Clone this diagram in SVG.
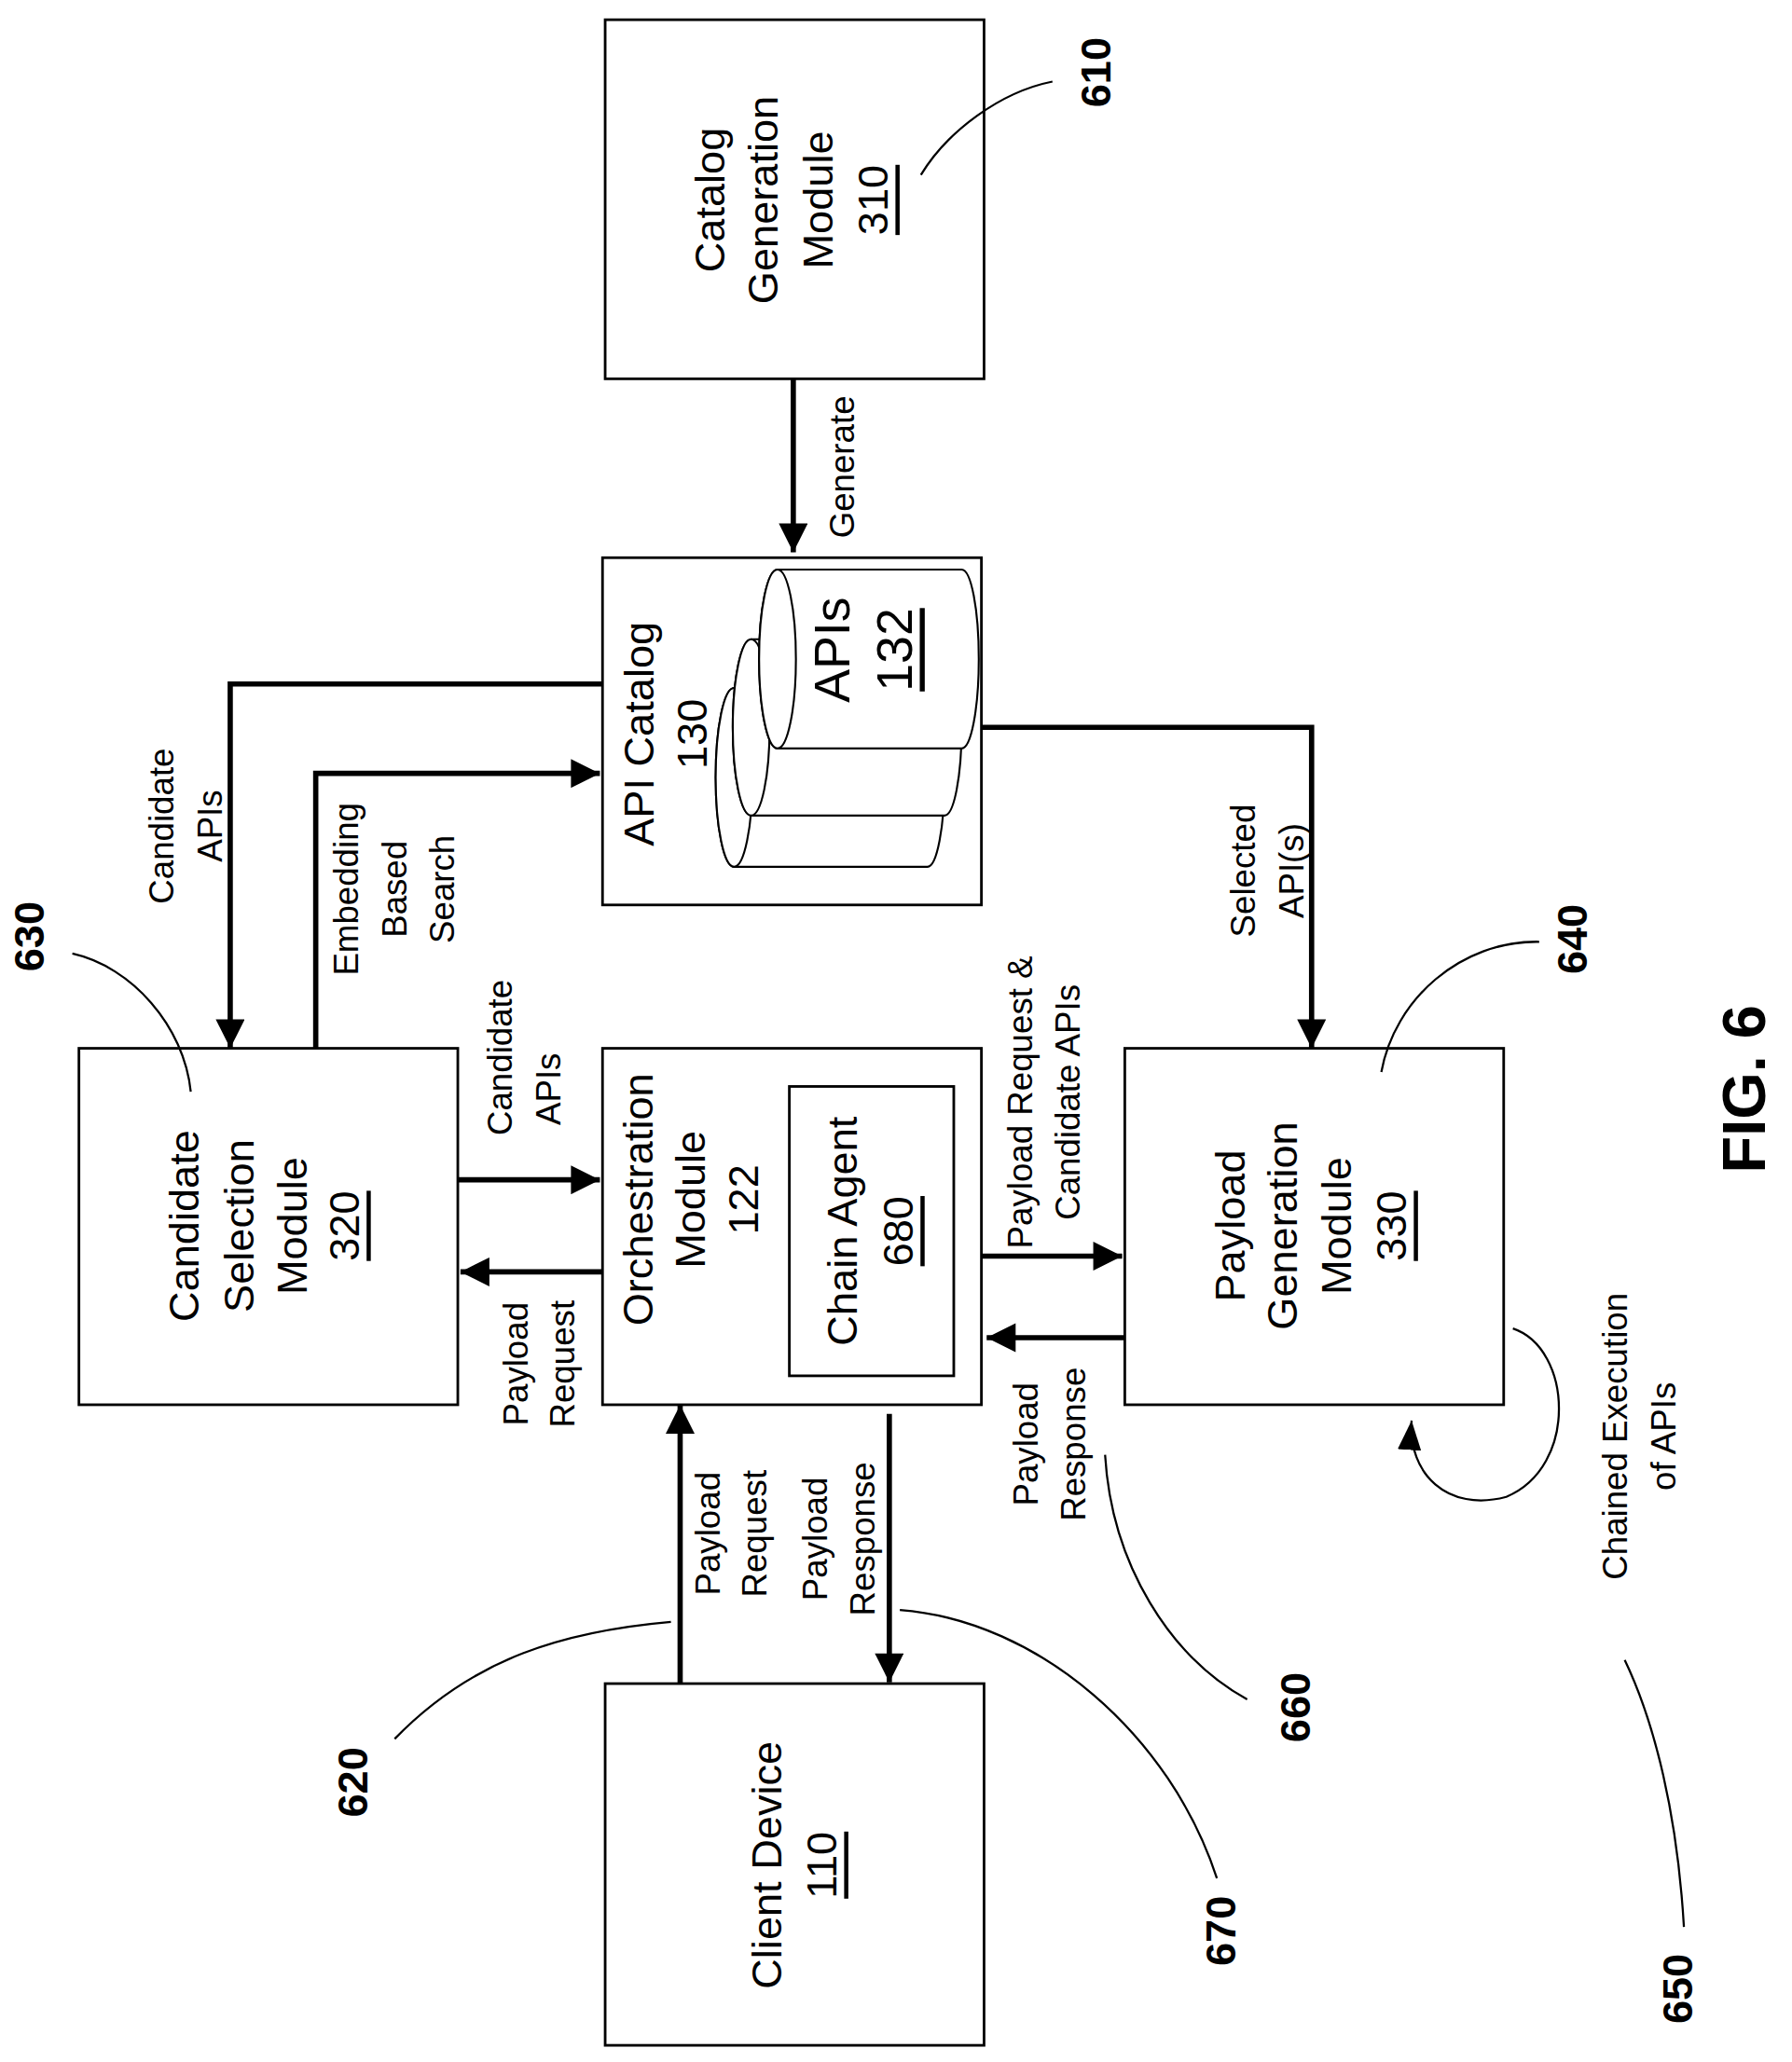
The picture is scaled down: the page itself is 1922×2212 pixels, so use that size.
<svg xmlns="http://www.w3.org/2000/svg" width="1922" height="2212" viewBox="0 0 1922 2212">
<style>
.box{fill:#fff;stroke:#000;stroke-width:2}
.t{font-family:"Liberation Sans",Arial,sans-serif;font-size:32px;text-anchor:middle;dominant-baseline:central}
.s{font-family:"Liberation Sans",Arial,sans-serif;font-size:26px;text-anchor:middle;dominant-baseline:central}
.n{font-family:"Liberation Sans",Arial,sans-serif;font-size:32px;font-weight:bold;text-anchor:middle;dominant-baseline:central}
.c{fill:none;stroke:#000;stroke-width:4}
.l{fill:none;stroke:#000;stroke-width:1.6}
.cyl{fill:#fff;stroke:#000;stroke-width:1.5}
</style>
<defs>
<marker id="ah" viewBox="0 0 10 10" refX="10" refY="5" markerWidth="6" markerHeight="5.5" markerUnits="strokeWidth" orient="auto"><path d="M0,0 L10,5 L0,10 z" fill="#000"/></marker>
<marker id="ah2" viewBox="0 0 10 10" refX="10" refY="5" markerWidth="14" markerHeight="14" markerUnits="strokeWidth" orient="auto"><path d="M0,1 L10,5 L0,9 z" fill="#000"/></marker>
</defs>
<rect width="1922" height="2212" fill="#fff"/>
<g transform="scale(1.411)">
<g id="catalog-gen">
<rect class="box" x="460" y="15" width="288" height="273"/>
<text class="t" transform="translate(540,152) rotate(-90)">Catalog</text>
<text class="t" transform="translate(580,152) rotate(-90)">Generation</text>
<text class="t" transform="translate(622,152) rotate(-90)">Module</text>
<text class="t" transform="translate(664,152) rotate(-90)" text-decoration="underline">310</text>
</g>
<g id="api-catalog">
<rect class="box" x="458" y="424" width="288" height="264"/>
<text class="t" transform="translate(486,558) rotate(-90)">API Catalog</text>
<text class="t" transform="translate(526,558) rotate(-90)">130</text>
<path class="cyl" d="M558,523 L705,523 A13,68 0 0 1 705,659 L558,659 A14,68 0 0 1 558,523 Z"/>
<ellipse class="cyl" cx="558" cy="591" rx="14" ry="68"/>
<path class="cyl" d="M571,486 L718,486 A13,67 0 0 1 718,620 L571,620 A14,67 0 0 1 571,486 Z"/>
<ellipse class="cyl" cx="571" cy="553" rx="14" ry="67"/>
<path class="cyl" d="M591,433 L731,433 A13,68 0 0 1 731,569 L591,569 A14,68 0 0 1 591,433 Z"/>
<ellipse class="cyl" cx="591" cy="501" rx="14" ry="68"/>
<text class="t" style="font-size:38px" transform="translate(632,494) rotate(-90)">APIs</text>
<text class="t" style="font-size:38px" transform="translate(680,494) rotate(-90)" text-decoration="underline">132</text>
</g>
<g id="candidate-selection">
<rect class="box" x="60" y="797" width="288" height="271"/>
<text class="t" transform="translate(140,932) rotate(-90)">Candidate</text>
<text class="t" transform="translate(182,932) rotate(-90)">Selection</text>
<text class="t" transform="translate(222,932) rotate(-90)">Module</text>
<text class="t" transform="translate(262,932) rotate(-90)" text-decoration="underline">320</text>
</g>
<g id="orchestration">
<rect class="box" x="458" y="797" width="288" height="271"/>
<text class="t" transform="translate(485,912) rotate(-90)">Orchestration</text>
<text class="t" transform="translate(525,912) rotate(-90)">Module</text>
<text class="t" transform="translate(565,912) rotate(-90)">122</text>
<rect class="box" x="600" y="826" width="125" height="220"/>
<text class="t" transform="translate(640,936) rotate(-90)">Chain Agent</text>
<text class="t" transform="translate(683,936) rotate(-90)" text-decoration="underline">680</text>
</g>
<g id="payload-gen">
<rect class="box" x="855" y="797" width="288" height="271"/>
<text class="t" transform="translate(935,932) rotate(-90)">Payload</text>
<text class="t" transform="translate(975,932) rotate(-90)">Generation</text>
<text class="t" transform="translate(1016,932) rotate(-90)">Module</text>
<text class="t" transform="translate(1058,932) rotate(-90)" text-decoration="underline">330</text>
</g>
<g id="client">
<rect class="box" x="460" y="1280" width="288" height="275"/>
<text class="t" transform="translate(583,1418) rotate(-90)">Client Device</text>
<text class="t" transform="translate(625,1418) rotate(-90)" text-decoration="underline">110</text>
</g>
<g id="connectors">
<path class="c" d="M603,288 L603,420" marker-end="url(#ah)"/>
<path class="c" d="M458,520 L175,520 L175,797" marker-end="url(#ah)"/>
<path class="c" d="M240,797 L240,588 L456,588" marker-end="url(#ah)"/>
<path class="c" d="M746,553 L997,553 L997,797" marker-end="url(#ah)"/>
<path class="c" d="M348,897 L456,897" marker-end="url(#ah)"/>
<path class="c" d="M458,967 L350,967" marker-end="url(#ah)"/>
<path class="c" d="M746,955 L853,955" marker-end="url(#ah)"/>
<path class="c" d="M855,1017 L750,1017" marker-end="url(#ah)"/>
<path class="c" d="M517,1280 L517,1068" marker-end="url(#ah)"/>
<path class="c" d="M676,1075 L676,1279" marker-end="url(#ah)"/>
<path fill="none" stroke="#000" stroke-width="1.6" d="M1150,1010 C1195,1025 1200,1115 1145,1138 C1100,1150 1070,1120 1073,1080" marker-end="url(#ah2)"/>
</g>
<g id="labels">
<text class="s" transform="translate(640,355) rotate(-90)">Generate</text>
<text class="s" transform="translate(123,628) rotate(-90)">Candidate</text>
<text class="s" transform="translate(160,628) rotate(-90)">APIs</text>
<text class="s" transform="translate(263,676) rotate(-90)">Embedding</text>
<text class="s" transform="translate(300,676) rotate(-90)">Based</text>
<text class="s" transform="translate(336,676) rotate(-90)">Search</text>
<text class="s" transform="translate(945,662) rotate(-90)">Selected</text>
<text class="s" transform="translate(982,662) rotate(-90)">API(s)</text>
<text class="s" transform="translate(380,804) rotate(-90)">Candidate</text>
<text class="s" transform="translate(417,828) rotate(-90)">APIs</text>
<text class="s" transform="translate(392,1037) rotate(-90)">Payload</text>
<text class="s" transform="translate(428,1037) rotate(-90)">Request</text>
<text class="s" transform="translate(776,838) rotate(-90)">Payload Request &amp;</text>
<text class="s" transform="translate(812,838) rotate(-90)">Candidate APIs</text>
<text class="s" transform="translate(780,1098) rotate(-90)">Payload</text>
<text class="s" transform="translate(816,1098) rotate(-90)">Response</text>
<text class="s" transform="translate(538,1166) rotate(-90)">Payload</text>
<text class="s" transform="translate(574,1166) rotate(-90)">Request</text>
<text class="s" transform="translate(620,1170) rotate(-90)">Payload</text>
<text class="s" transform="translate(656,1170) rotate(-90)">Response</text>
<text class="s" transform="translate(1228,1092) rotate(-90)">Chained  Execution</text>
<text class="s" transform="translate(1265,1092) rotate(-90)">of APIs</text>
</g>
<g id="refs">
<text class="n" transform="translate(833,55) rotate(-90)">610</text>
<path class="l" d="M700,133 C720,100 760,70 800,62"/>
<text class="n" transform="translate(22,712) rotate(-90)">630</text>
<path class="l" d="M55,725 C100,735 140,780 145,830"/>
<text class="n" transform="translate(1195,714) rotate(-90)">640</text>
<path class="l" d="M1170,716 C1110,715 1060,760 1050,815"/>
<text class="n" transform="translate(268,1355) rotate(-90)">620</text>
<path class="l" d="M300,1322 C360,1260 430,1240 510,1233"/>
<text class="n" transform="translate(928,1468) rotate(-90)">670</text>
<path class="l" d="M925,1428 C890,1320 790,1232 684,1224"/>
<text class="n" transform="translate(985,1298) rotate(-90)">660</text>
<path class="l" d="M948,1292 C890,1260 845,1190 840,1106"/>
<text class="n" transform="translate(1275,1512) rotate(-90)">650</text>
<path class="l" d="M1280,1465 C1275,1380 1258,1310 1235,1262"/>
<text class="n" style="font-size:46px" transform="translate(1326,828) rotate(-90)">FIG. 6</text>
</g>
</g>
</svg>
